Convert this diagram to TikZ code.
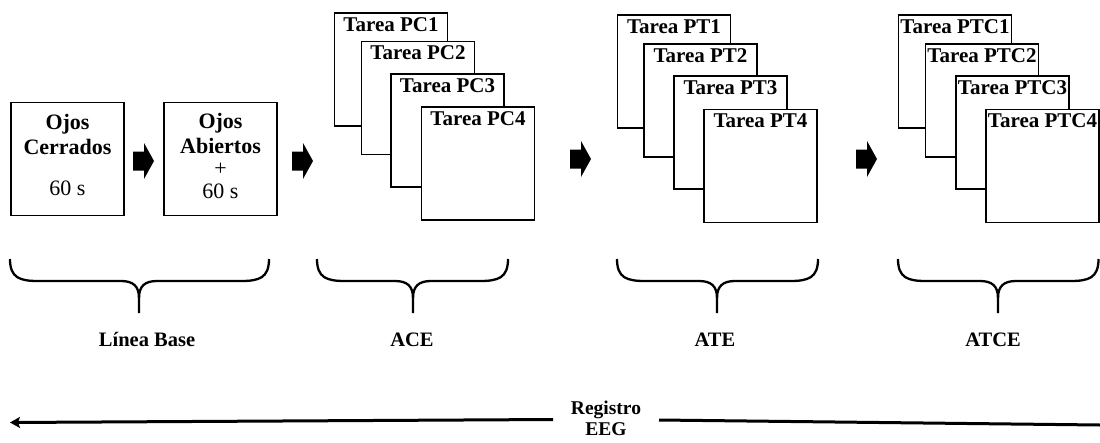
\documentclass[tikz,border=0pt]{standalone}
\usepackage{fontspec}
\setmainfont{Liberation Serif}
\usetikzlibrary{arrows.meta}

\tikzset{
  stagebox/.style={draw, line width=1.8pt, fill=white, minimum width=113pt,
    minimum height=113pt, inner sep=0pt},
  stagetext/.style={align=center, inner sep=0pt},
  taskbox/.style={draw, line width=1.8pt, fill=white, minimum width=113pt,
    minimum height=113pt, inner sep=0pt},
  tasklabel/.style={anchor=north, inner sep=0pt, yshift=-5pt,
    font=\fontsize{21}{23}\selectfont\bfseries},
  phaselabel/.style={anchor=base, inner sep=0pt,
    font=\fontsize{20.5}{23}\selectfont\bfseries},
  bracestroke/.style={line width=2.3pt},
  eegline/.style={line width=3pt},
  blockarrow/.pic={
    \fill (0,-9.5) -- (11,-9.5) -- (11,-18) -- (21,0) -- (11,18) -- (11,9.5) -- (0,9.5) -- cycle;
  }
}

% underbrace from x=#1 to x=#3 with its tip at x=#2
\newcommand\drawphasebrace[3]{%
  \draw[bracestroke] (#1,259) .. controls (#1,278) and ({#1+10},281) .. ({#1+28},281)
    -- ({#2-18},281) .. controls ({#2-6},281) and (#2,286) .. (#2,298) -- (#2,313);
  \draw[bracestroke] (#3,259) .. controls (#3,278) and ({#3-10},281) .. ({#3-28},281)
    -- ({#2+18},281) .. controls ({#2+6},281) and (#2,286) .. (#2,298);
}

\begin{document}
\begin{tikzpicture}[x=1pt, y=-1pt]
  \useasboundingbox[fill=white] (0,0) rectangle (1100,442);

  % baseline stages
  \node[stagebox] (oc) at (67.5,159) {};
  \node[stagetext, font=\fontsize{22}{25}\selectfont] (octext) at ([yshift=4.25pt]oc.center)
    {\textbf{Ojos}\\\textbf{Cerrados}\\[16pt]60 s};
  \node[stagebox] (oa) at (220.5,159) {};
  \node[stagetext, font=\fontsize{22}{22}\selectfont] (oatext) at ([yshift=3pt]oa.center)
    {\textbf{Ojos}\\[3pt]\textbf{Abiertos}\\+\\[0.5pt]60 s};

  % block arrows between stages
  \pic at (133,161) {blockarrow};
  \pic at (292,161) {blockarrow};
  \pic at (570,159) {blockarrow};
  \pic at (856,159) {blockarrow};

  % PC task stack
  \node[taskbox, label={[tasklabel]north:Tarea PC1}] (pc1) at (391,69.5) {};
  \node[taskbox, label={[tasklabel]north:Tarea PC2}] (pc2) at (418,98) {};
  \node[taskbox, label={[tasklabel]north:Tarea PC3}] (pc3) at (447.5,130.5) {};
  \node[taskbox, label={[tasklabel]north:Tarea PC4}] (pc4) at (478,163.5) {};

  % PT task stack
  \node[taskbox, label={[tasklabel]north:Tarea PT1}] (pt1) at (674,71.5) {};
  \node[taskbox, label={[tasklabel]north:Tarea PT2}] (pt2) at (700.5,100.5) {};
  \node[taskbox, label={[tasklabel]north:Tarea PT3}] (pt3) at (730.5,132.5) {};
  \node[taskbox, label={[tasklabel]north:Tarea PT4}] (pt4) at (760.5,166) {};

  % PTC task stack
  \node[taskbox, label={[tasklabel]north:Tarea PTC1}] (ptc1) at (955,71.5) {};
  \node[taskbox, label={[tasklabel]north:Tarea PTC2}] (ptc2) at (982,100.5) {};
  \node[taskbox, label={[tasklabel]north:Tarea PTC3}] (ptc3) at (1012.5,132.5) {};
  \node[taskbox, label={[tasklabel]north:Tarea PTC4}] (ptc4) at (1042.5,166) {};

  % phase braces and their names
  \drawphasebrace{10}{139}{269}
  \drawphasebrace{317}{413}{508}
  \drawphasebrace{617}{717}{818}
  \drawphasebrace{898}{998}{1098.5}
  \node[phaselabel] (lb) at (147,346.5) {Línea Base};
  \node[phaselabel] (ace) at (412,346.5) {ACE};
  \node[phaselabel] (ate) at (715,346.5) {ATE};
  \node[phaselabel] (atce) at (993,346.5) {ATCE};

  % EEG recording timeline
  \node[align=center, inner sep=0pt, font=\fontsize{19.5}{21}\selectfont\bfseries] (eeg)
    at (606,418) {Registro\\EEG};
  \coordinate (eegR) at (1100,425);
  \coordinate (eegRin) at (659,420);
  \coordinate (eegLin) at (553,419.5);
  \coordinate (eegL) at (10,422.5);
  \draw[eegline] (eegR) -- (eegRin);
  \draw[eegline, -{Stealth[length=10pt, width=11pt, inset=2pt]}] (eegLin) -- (eegL);
\end{tikzpicture}
\end{document}
